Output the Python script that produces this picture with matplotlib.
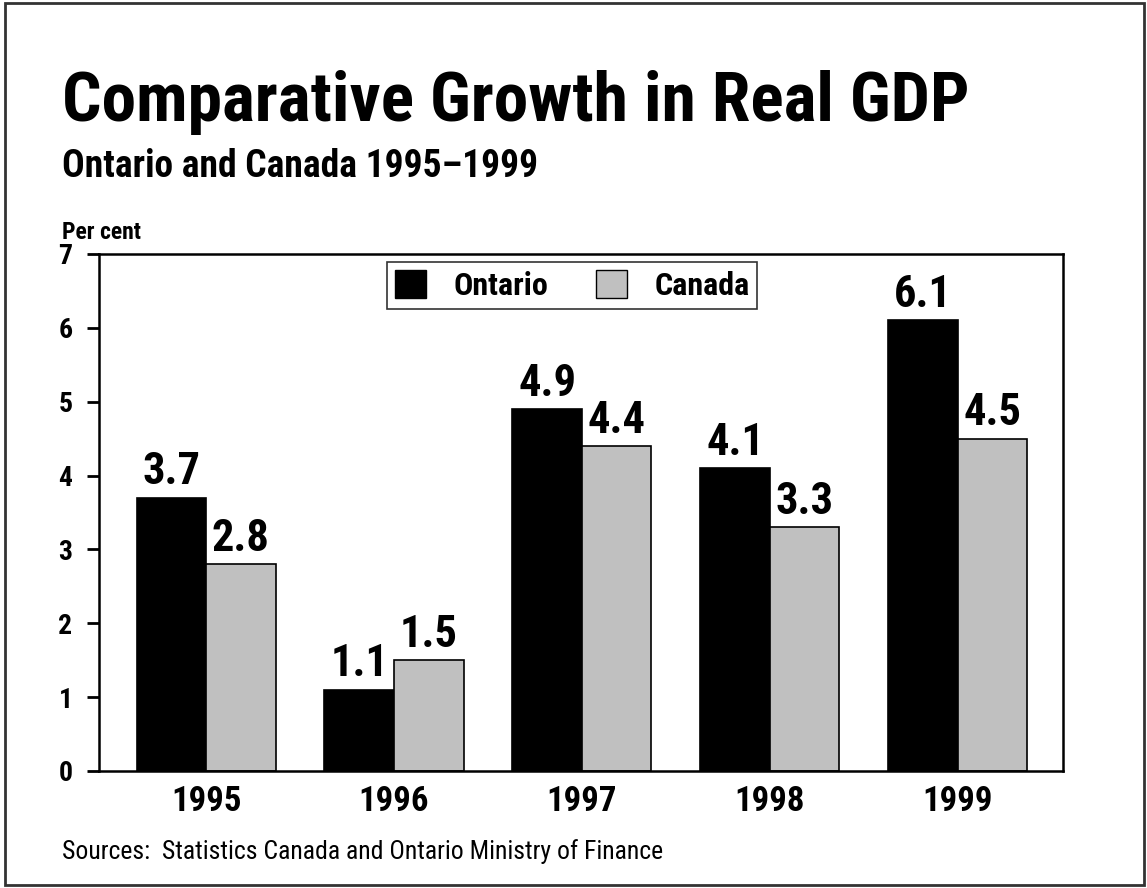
import matplotlib.pyplot as plt
from matplotlib.patches import Rectangle, Patch
import numpy as np

# Data
years = ["1995", "1996", "1997", "1998", "1999"]
ontario = [3.7, 1.1, 4.9, 4.1, 6.1]
canada = [2.8, 1.5, 4.4, 3.3, 4.5]
yticks = [0, 1, 2, 3, 4, 5, 6, 7]

FONT = ["Roboto Condensed", "DejaVu Sans"]
plt.rcParams["font.family"] = FONT

fig = plt.figure(figsize=(11.47, 8.88), dpi=100)
fig.patch.set_facecolor("white")

# outer frame
fig.patches.append(Rectangle((0.004, 0.003), 0.993, 0.994, transform=fig.transFigure,
                             fill=False, edgecolor="#333333", linewidth=2))

ax = fig.add_axes([0.0863, 0.1318, 0.8405, 0.5822])

x = np.arange(len(years))
w = 0.37
ax.bar(x - w / 2, ontario, w, color="black", edgecolor="black", linewidth=1.2)
ax.bar(x + w / 2, canada, w, color="#c0c0c0", edgecolor="black", linewidth=1.2)

# value labels above bars
for xi, v in zip(x - w / 2, ontario):
    ax.text(xi, v + 0.06, f"{v:.1f}", ha="center", va="bottom",
            fontsize=32, fontweight="bold")
for xi, v in zip(x + w / 2, canada):
    ax.text(xi, v + 0.06, f"{v:.1f}", ha="center", va="bottom",
            fontsize=32, fontweight="bold")

ax.set_xlim(-0.57, 4.56)
ax.set_ylim(0, 7)
ax.set_yticks(yticks)
ax.set_xticks(x)
ax.set_xticklabels(years, fontsize=25, fontweight="bold")
ax.tick_params(axis="y", labelsize=20, width=2, length=9, direction="out", pad=10)
for lab in ax.get_yticklabels():
    lab.set_fontweight("bold")
ax.tick_params(axis="x", length=0, pad=10)
for s in ax.spines.values():
    s.set_linewidth(1.8)

handles = [Patch(facecolor="black", edgecolor="black"),
           Patch(facecolor="#c0c0c0", edgecolor="black")]
leg = ax.legend(handles, ["Ontario", "Canada"], loc="upper center", ncol=2,
                bbox_to_anchor=(0.491, 0.985), borderaxespad=0, frameon=True,
                fancybox=False, prop={"family": FONT, "weight": "bold", "size": 23},
                handlelength=0.97, handleheight=0.97, handletextpad=0.85,
                columnspacing=1.5, borderpad=0.25)
leg.get_frame().set_edgecolor("black")
leg.get_frame().set_linewidth(1.2)

fig.text(0.054, 0.864, "Comparative Growth in Real GDP", fontsize=50,
         fontweight="bold", va="baseline")
fig.text(0.054, 0.801, "Ontario and Canada 1995\u20131999", fontsize=27,
         fontweight="bold", va="baseline")
fig.text(0.054, 0.731, "Per cent", fontsize=17, fontweight="bold", va="baseline")
fig.text(0.054, 0.033, "Sources:  Statistics Canada and Ontario Ministry of Finance",
         fontsize=18.5, va="baseline")

fig.savefig("out.png", dpi=100)
